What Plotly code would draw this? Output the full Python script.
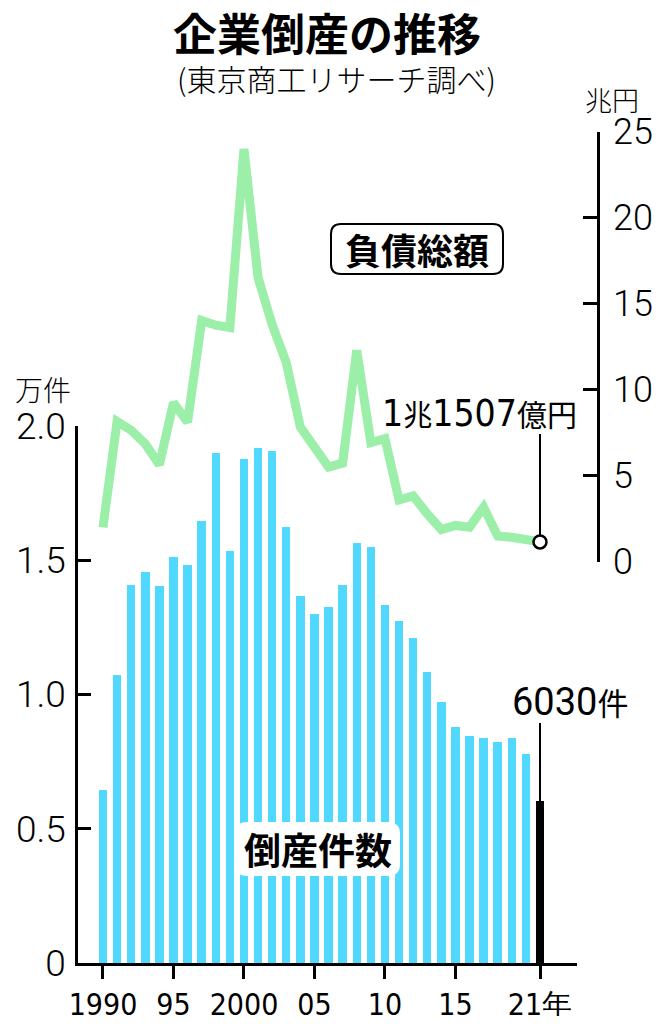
import plotly.graph_objects as go

# the page puts the plot 8px in from the top-left corner, so the figure is
# sized to fit the window and every pixel position is shifted by OFF
OFF = 8
W, H = 661 - 2 * OFF, 1024 - 2 * OFF

years = list(range(1990, 2022))
# 倒産件数 (件)
counts = [
    6468, 10723, 14069, 14564, 14061, 15108, 14834, 16464, 18988, 15352,
    18769, 19164, 19087, 16255, 13679, 12998, 13245, 14091, 15646, 15480,
    13321, 12734, 12124, 10855, 9731, 8812, 8446, 8405, 8235, 8383,
    7773, 6030,
]
# 負債総額 (兆円)
debt = [
    2.00, 8.15, 7.64, 6.85, 5.63, 9.24, 8.12, 14.02, 13.75, 13.62,
    23.99, 16.52, 13.78, 11.58, 7.82, 6.73, 5.50, 5.73, 12.29, 6.93,
    7.16, 3.59, 3.83, 2.78, 1.87, 2.11, 2.01, 3.17, 1.49, 1.42,
    1.22, 1.1507,
]
x_tickvals = [1990, 1995, 2000, 2005, 2010, 2015, 2021]
x_ticktext = ["1990", "95", "2000", "05", "10", "15", "21年"]
y_tickvals = [0, 0.5, 1.0, 1.5, 2.0]
y_ticktext = ["0", "0.5", "1.0", "1.5", "2.0"]
y2_tickvals = [0, 5, 10, 15, 20, 25]

BAR = "#50D8FF"
LINE = "#9BEFA8"
JP = "Noto Sans CJK JP"
COND = "DejaVu Sans Condensed"


def px(x, y):
    return (x - OFF) / W, 1 - (y - OFF) / H


def px_x(x):
    return px(x, 0)[0]


def px_y(y):
    return px(0, y)[1]


def rounded_box(x0, y0, x1, y1, r):
    # path in paper coords built from pixel corners
    def p(x, y):
        a, b = px(x, y)
        return f"{a:.5f},{b:.5f}"

    return (
        f"M {p(x0 + r, y0)} L {p(x1 - r, y0)} Q {p(x1, y0)} {p(x1, y0 + r)} "
        f"L {p(x1, y1 - r)} Q {p(x1, y1)} {p(x1 - r, y1)} "
        f"L {p(x0 + r, y1)} Q {p(x0, y1)} {p(x0, y1 - r)} "
        f"L {p(x0, y0 + r)} Q {p(x0, y0)} {p(x0 + r, y0)} Z"
    )


bar_values = [c / 10000 for c in counts]
bar_colors = [BAR] * (len(years) - 1) + ["#000000"]

fig = go.Figure()
fig.add_trace(
    go.Bar(
        x=years,
        y=bar_values,
        width=0.6,
        marker={"color": bar_colors, "line": {"width": 0}},
        xaxis="x",
        yaxis="y",
        showlegend=False,
        hoverinfo="skip",
    )
)
fig.add_trace(
    go.Scatter(
        x=years,
        y=debt,
        mode="lines",
        line={"color": LINE, "width": 9},
        xaxis="x",
        yaxis="y2",
        cliponaxis=False,
        showlegend=False,
        hoverinfo="skip",
    )
)
fig.add_trace(
    go.Scatter(
        x=[years[-1]],
        y=[debt[-1]],
        mode="markers",
        marker={"size": 13, "color": "white", "line": {"color": "black", "width": 2.5}},
        xaxis="x",
        yaxis="y2",
        cliponaxis=False,
        showlegend=False,
        hoverinfo="skip",
    )
)

shapes = [
    # leader lines
    {"type": "line", "xref": "x", "yref": "y2", "x0": 2021, "x1": 2021,
     "y0": debt[-1] + 0.4, "y1": 7.42, "line": {"color": "black", "width": 2}},
    {"type": "line", "xref": "x", "yref": "y", "x0": 2021, "x1": 2021,
     "y0": counts[-1] / 10000, "y1": 0.893, "line": {"color": "black", "width": 2}},
    # label boxes
    {"type": "path", "xref": "paper", "yref": "paper", "path": rounded_box(331, 224, 503, 274, 10),
     "fillcolor": "white", "line": {"color": "black", "width": 2}, "layer": "above"},
    {"type": "path", "xref": "paper", "yref": "paper", "path": rounded_box(235, 822, 400, 876, 12),
     "fillcolor": "white", "line": {"width": 0}, "layer": "above"},
]


def note(text, x, y, size, family=JP, weight="normal", xanchor="center"):
    ax, ay = px(x, y)
    return {
        "text": text, "x": ax, "y": ay, "xref": "paper", "yref": "paper",
        "xanchor": xanchor, "yanchor": "middle", "showarrow": False,
        "font": {"family": family, "size": size, "color": "black", "weight": weight},
    }


annotations = [
    note("企業倒産の推移", 327, 32, 44, weight="bold"),
    note("(東京商工リサーチ調べ)", 337, 78, 30, weight=300),
    note("兆円", 612, 99, 27, weight=300),
    note("万件", 43, 389, 28, weight=300),
    note("負債総額", 417, 249, 36, weight="bold"),
    note("倒産件数", 318, 849, 37, weight="bold"),
    note(
        "1<span style='font-family:Noto Sans CJK JP;font-size:29px'>兆</span>"
        "1507<span style='font-family:Noto Sans CJK JP;font-size:30px'>億円</span>",
        479, 413, 37, family=COND,
    ),
    note("6030<span style='font-family:Noto Sans CJK JP;font-size:31px'>件</span>", 570, 701, 38,
         family="Roboto"),
]

axis_line = {"showline": True, "linecolor": "black", "linewidth": 2.5, "showgrid": False,
             "zeroline": False, "ticks": "inside", "tickcolor": "black", "tickwidth": 2.5,
             "ticklen": 13, "automargin": False}

fig.update_layout(
    width=W,
    height=H,
    autosize=False,
    margin={"l": 0, "r": 0, "t": 0, "b": 0, "pad": 0, "autoexpand": False},
    paper_bgcolor="white",
    plot_bgcolor="rgba(0,0,0,0)",
    bargap=0,
    xaxis={
        "domain": [px_x(78), px_x(577)],
        "range": [1988.227, 2023.625],
        "tickvals": x_tickvals,
        "ticktext": x_ticktext,
        "showline": True, "linecolor": "black", "linewidth": 2.5,
        "showgrid": False, "zeroline": False,
        "ticks": "outside", "tickcolor": "black", "tickwidth": 2.5, "ticklen": 13,
        "tickfont": {"family": COND, "size": 30, "color": "black"},
        "ticklabelstandoff": 0,
        "anchor": "y",
        "automargin": False,
    },
    yaxis={
        **axis_line,
        "domain": [px_y(963), px_y(425.7)],
        "range": [0, 2.0],
        "tickvals": y_tickvals,
        "ticktext": y_ticktext,
        "tickfont": {"family": "Roboto", "size": 37, "color": "black", "weight": 300},
        "ticklabelstandoff": 2,
        "anchor": "x",
    },
    yaxis2={
        **axis_line,
        "domain": [px_y(561.7), px_y(131.7)],
        "range": [0, 25],
        "tickvals": y2_tickvals,
        "side": "right",
        "anchor": "free",
        "position": px_x(598),
        "tickfont": {"family": "Roboto", "size": 36, "color": "black", "weight": 300},
        "ticklabelstandoff": 6,
        "ticklen": 14,
    },
    shapes=shapes,
    annotations=annotations,
)

fig.write_html("out.html")
